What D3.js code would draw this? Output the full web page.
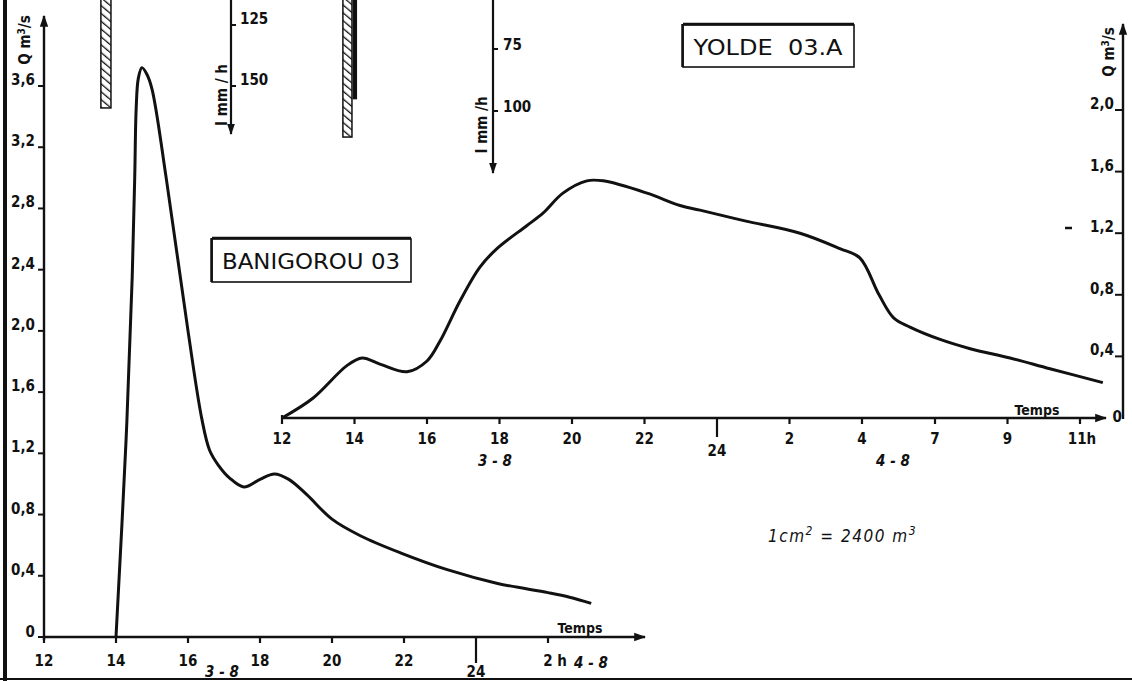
<!DOCTYPE html>
<html><head><meta charset="utf-8">
<script src="https://cdn.jsdelivr.net/npm/d3@7"></script>
<style>
html,body{margin:0;padding:0;background:#fff;}
svg{display:block;}
text{font-family:"DejaVu Sans Condensed","DejaVu Sans",sans-serif;fill:#111;}
</style></head>
<body>
<script>
// ---------- DATA ----------
// BANIGOROU 03 hydrograph (hours from 0h on 3-8, Q m3/s)
const banHours = [14.0, 14.28, 14.45, 14.52, 14.56, 14.62, 14.72, 14.85, 15.0, 15.4, 16.0, 16.38, 16.6, 16.85, 17.15, 17.55, 18.0, 18.4, 18.8, 19.3, 20.0, 20.8, 21.9, 23.2, 24.6, 26.0, 26.6, 27.2];
const banQ     = [0.0,  1.29,  2.35,  3.0,   3.45,  3.65,  3.72,  3.68,  3.58, 2.99, 2.0,  1.43,  1.22, 1.12,  1.04,  0.98,  1.03, 1.065, 1.03, 0.93, 0.77, 0.66, 0.55, 0.44, 0.35, 0.29, 0.26, 0.22];
const banTickHours  = [12, 14, 16, 18, 20, 22, 24, 26];
const banTickLabels = ["12", "14", "16", "18", "20", "22", "24", "2 h"];
const banQTicks = [0, 0.4, 0.8, 1.2, 1.6, 2.0, 2.4, 2.8, 3.2, 3.6];
const banRainTicks = [125, 150];
const banRainBars = [{t0: 13.58, t1: 13.86, i: 159, type: "hatch"}];

// YOLDE 03.A hydrograph
const yolHours = [12.0, 12.86, 13.79, 14.21, 14.7, 15.45, 16.0, 16.36, 16.91, 17.46, 17.93, 18.76, 19.2, 19.75, 20.41, 20.86, 22.07, 22.98, 23.53, 24.77, 26.29, 27.39, 27.94, 28.7, 29.3, 29.97, 31.14, 31.97, 33.07, 34.17, 35.63];
const yolQ     = [0.0,  0.13,  0.34,  0.39,  0.35, 0.30,  0.37, 0.50,  0.76,  0.98,  1.10,  1.25,  1.33, 1.46,  1.54,  1.54,  1.46,  1.38,  1.35,  1.28,  1.20,  1.10,  1.04,  0.80,  0.65,  0.59,  0.51,  0.45,  0.39,  0.32,  0.23];
const yolTickHours  = [12, 14, 16, 18, 20, 22, 24, 26, 28, 31, 33, 35];
const yolTickLabels = ["12", "14", "16", "18", "20", "22", "24", "2", "4", "7", "9", "11h"];
const yolQTicks = [0, 0.4, 0.8, 1.2, 1.6, 2.0];
const yolQTickLabels = ["0", "0,4", "0,8", "1,2", "1,6", "2,0"];
const yolRainTicks = [75, 100];
const yolRainBars = [{t0: 13.68, t1: 13.93, i: 110.5, type: "hatch"}, {t0: 13.97, t1: 14.05, i: 95, type: "solid"}];

const fmt = v => v === 0 ? "0" : d3.format(".1f")(v).replace(".", ",");

// ---------- SVG ----------
const W = 1132, H = 681;
const svg = d3.select("body").append("svg").attr("width", W).attr("height", H);
const defs = svg.append("defs");
defs.append("marker").attr("id", "arr").attr("viewBox", "0 0 10 10").attr("refX", 9).attr("refY", 5)
  .attr("markerWidth", 5).attr("markerHeight", 5).attr("orient", "auto-start-reverse")
  .attr("markerUnits", "strokeWidth")
  .append("path").attr("d", "M0,1.5 L10,5 L0,8.5 z").attr("fill", "#111");
const pat = defs.append("pattern").attr("id", "hatch").attr("patternUnits", "userSpaceOnUse")
  .attr("width", 6).attr("height", 6).attr("patternTransform", "rotate(-50)");
pat.append("rect").attr("width", 6).attr("height", 6).attr("fill", "#fff");
pat.append("line").attr("x1", 0).attr("y1", 0).attr("x2", 0).attr("y2", 6).attr("stroke", "#111").attr("stroke-width", 2.6);

const ink = "#111";
const FS = 15;

// page border
svg.append("line").attr("x1", 5).attr("y1", 0).attr("x2", 5).attr("y2", H).attr("stroke", ink).attr("stroke-width", 4);
svg.append("line").attr("x1", 0).attr("y1", 679).attr("x2", W).attr("y2", 679).attr("stroke", ink).attr("stroke-width", 2);

// ================= BANIGOROU 03 =================
const bx = d3.scaleLinear().domain([12, 28.6]).range([44, 641.6]);
const by = d3.scaleLinear().domain([0, 3.6]).range([637, 86]);
const bRain = d3.scaleLinear().domain([125, 150]).range([25, 86]);

const g1 = svg.append("g");
g1.append("line").attr("x1", bx(12)).attr("y1", by(0)).attr("x2", 645).attr("y2", by(0))
  .attr("stroke", ink).attr("stroke-width", 2.4).attr("marker-end", "url(#arr)");
g1.selectAll(".bxt").data(banTickHours).join("line")
  .attr("x1", d => bx(d)).attr("x2", d => bx(d)).attr("y1", by(0))
  .attr("y2", d => d === 24 ? by(0) + 26 : by(0) + 6)
  .attr("stroke", ink).attr("stroke-width", 2.2);
g1.selectAll(".bxl").data(banTickHours).join("text")
  .attr("x", d => bx(d) + (d === 26 ? 7 : 0)).attr("y", d => d === 24 ? 677 : by(0) + 29)
  .attr("text-anchor", "middle").attr("font-size", FS).attr("font-weight", "bold")
  .text((d, i) => banTickLabels[i]);
g1.append("line").attr("x1", bx(12)).attr("y1", by(0) + 3).attr("x2", bx(12)).attr("y2", 16)
  .attr("stroke", ink).attr("stroke-width", 2.4).attr("marker-end", "url(#arr)");
g1.selectAll(".byt").data(banQTicks).join("line")
  .attr("x1", bx(12) - 6).attr("x2", bx(12)).attr("y1", d => by(d)).attr("y2", d => by(d))
  .attr("stroke", ink).attr("stroke-width", 2);
g1.selectAll(".byl").data(banQTicks).join("text")
  .attr("x", bx(12) - 9).attr("y", d => by(d) + (d === 0 ? 0 : -1))
  .attr("text-anchor", "end").attr("font-size", FS).attr("font-weight", "bold")
  .text(d => fmt(d));
g1.append("text").attr("transform", `translate(${bx(12) - 14},40) rotate(-90)`)
  .attr("text-anchor", "middle").attr("font-size", FS).attr("font-weight", "bold")
  .html('Q m<tspan dy="-5" font-size="10">3</tspan><tspan dy="5">/s</tspan>');
g1.append("path").datum(banHours.map((h, i) => [h, banQ[i]]))
  .attr("fill", "none").attr("stroke", ink).attr("stroke-width", 3).attr("stroke-linejoin", "round")
  .attr("d", d3.line().x(d => bx(d[0])).y(d => by(d[1])).curve(d3.curveCatmullRom.alpha(0.5)));
const rAx1 = 231;
g1.append("line").attr("x1", rAx1).attr("y1", 0).attr("x2", rAx1).attr("y2", 134)
  .attr("stroke", ink).attr("stroke-width", 2.2).attr("marker-end", "url(#arr)");
g1.selectAll(".brt").data(banRainTicks).join("line")
  .attr("x1", rAx1).attr("x2", rAx1 + 5).attr("y1", d => bRain(d)).attr("y2", d => bRain(d))
  .attr("stroke", ink).attr("stroke-width", 2);
g1.selectAll(".brl").data(banRainTicks).join("text")
  .attr("x", rAx1 + 9).attr("y", d => bRain(d) - 1).attr("font-size", FS).attr("font-weight", "bold")
  .text(d => d);
g1.append("text").attr("transform", `translate(${rAx1 - 4},95) rotate(-90)`)
  .attr("text-anchor", "middle").attr("font-size", FS).attr("font-weight", "bold").text("I mm / h");
g1.selectAll(".brb").data(banRainBars).join("rect")
  .attr("x", d => bx(d.t0)).attr("width", d => bx(d.t1) - bx(d.t0))
  .attr("y", -2).attr("height", d => bRain(d.i) + 2)
  .attr("fill", d => d.type === "hatch" ? "url(#hatch)" : ink).attr("stroke", ink).attr("stroke-width", 1.5);
g1.append("text").attr("x", 580).attr("y", 633).attr("text-anchor", "middle")
  .attr("font-size", 14).attr("font-weight", "bold").text("Temps");
g1.append("text").attr("x", 222).attr("y", 677).attr("text-anchor", "middle")
  .attr("font-size", FS).attr("font-weight", "bold").attr("font-style", "italic").text("3 - 8");
g1.append("text").attr("x", 591).attr("y", 668).attr("text-anchor", "middle")
  .attr("font-size", FS).attr("font-weight", "bold").attr("font-style", "italic").text("4 - 8");
g1.append("rect").attr("x", 212).attr("y", 239).attr("width", 199).attr("height", 43)
  .attr("fill", "#fff").attr("stroke", ink).attr("stroke-width", 1.6);
g1.append("line").attr("x1", 212).attr("y1", 238).attr("x2", 411).attr("y2", 238).attr("stroke", ink).attr("stroke-width", 2.5);
g1.append("line").attr("x1", 211.5).attr("y1", 238).attr("x2", 211.5).attr("y2", 282).attr("stroke", ink).attr("stroke-width", 2.5);
g1.append("text").attr("x", 311).attr("y", 269).attr("text-anchor", "middle")
  .attr("font-family", "'DejaVu Sans',sans-serif").attr("font-size", 21)
  .attr("textLength", 178).attr("lengthAdjust", "spacingAndGlyphs")
  .text("BANIGOROU 03");

// ================= YOLDE 03.A =================
const yx = d3.scaleLinear().domain([12, 28, 31, 35]).range([282, 862, 935, 1080]);
const yy = d3.scaleLinear().domain([0, 2.0]).range([418, 110]);
const yRain = d3.scaleLinear().domain([75, 100]).range([49, 111]);

const g2 = svg.append("g");
g2.append("line").attr("x1", yx(12)).attr("y1", yy(0)).attr("x2", 1106).attr("y2", yy(0))
  .attr("stroke", ink).attr("stroke-width", 2.4).attr("marker-end", "url(#arr)");
g2.selectAll(".yxt").data(yolTickHours).join("line")
  .attr("x1", d => yx(d)).attr("x2", d => yx(d)).attr("y1", d => yy(0) - (d === 12 ? 3 : 0))
  .attr("y2", d => d === 24 ? yy(0) + 19 : yy(0) + 6)
  .attr("stroke", ink).attr("stroke-width", 2.2);
g2.selectAll(".yxl").data(yolTickHours).join("text")
  .attr("x", d => yx(d) + (d === 35 ? 2 : 0)).attr("y", d => d === 24 ? yy(0) + 38 : yy(0) + 26)
  .attr("text-anchor", "middle").attr("font-size", FS).attr("font-weight", "bold")
  .text((d, i) => yolTickLabels[i]);
const yAxX = 1123;
g2.append("line").attr("x1", yAxX).attr("y1", yy(0) + 1).attr("x2", yAxX).attr("y2", 24)
  .attr("stroke", ink).attr("stroke-width", 2.4).attr("marker-end", "url(#arr)");
g2.selectAll(".yyt").data(yolQTicks.slice(1)).join("line")
  .attr("x1", yAxX - 8).attr("x2", yAxX).attr("y1", d => yy(d)).attr("y2", d => yy(d))
  .attr("stroke", ink).attr("stroke-width", 2);
g2.selectAll(".yyl").data(yolQTicks).join("text")
  .attr("x", d => d === 0 ? yAxX - 1 : yAxX - 9).attr("y", d => d === 0 ? yy(0) + 4 : yy(d) - 1)
  .attr("text-anchor", "end").attr("font-size", FS).attr("font-weight", "bold")
  .text((d, i) => yolQTickLabels[i]);
g2.append("text").attr("transform", `translate(${yAxX - 9},52) rotate(-90)`)
  .attr("text-anchor", "middle").attr("font-size", FS).attr("font-weight", "bold")
  .html('Q m<tspan dy="-5" font-size="10">3</tspan><tspan dy="5">/s</tspan>');
g2.append("path").datum(yolHours.map((h, i) => [h, yolQ[i]]))
  .attr("fill", "none").attr("stroke", ink).attr("stroke-width", 3).attr("stroke-linejoin", "round")
  .attr("d", d3.line().x(d => yx(d[0])).y(d => yy(d[1])).curve(d3.curveCatmullRom.alpha(0.5)));
const rAx2 = 493;
g2.append("line").attr("x1", rAx2).attr("y1", 0).attr("x2", rAx2).attr("y2", 173)
  .attr("stroke", ink).attr("stroke-width", 2.2).attr("marker-end", "url(#arr)");
g2.selectAll(".yrt").data(yolRainTicks).join("line")
  .attr("x1", rAx2).attr("x2", rAx2 + 5).attr("y1", d => yRain(d)).attr("y2", d => yRain(d))
  .attr("stroke", ink).attr("stroke-width", 2);
g2.selectAll(".yrl").data(yolRainTicks).join("text")
  .attr("x", rAx2 + 10).attr("y", d => yRain(d) + 1).attr("font-size", FS).attr("font-weight", "bold")
  .text(d => d);
g2.append("text").attr("transform", `translate(${rAx2 - 6},125) rotate(-90)`)
  .attr("text-anchor", "middle").attr("font-size", FS).attr("font-weight", "bold").text("I mm /h");
g2.selectAll(".yrb").data(yolRainBars).join("rect")
  .attr("x", d => yx(d.t0)).attr("width", d => yx(d.t1) - yx(d.t0))
  .attr("y", -2).attr("height", d => yRain(d.i) + 2)
  .attr("fill", d => d.type === "hatch" ? "url(#hatch)" : ink).attr("stroke", ink).attr("stroke-width", 1.5);
g2.append("text").attr("x", 1037).attr("y", 415).attr("text-anchor", "middle")
  .attr("font-size", 14).attr("font-weight", "bold").text("Temps");
g2.append("text").attr("x", 495).attr("y", 466).attr("text-anchor", "middle")
  .attr("font-size", FS).attr("font-weight", "bold").attr("font-style", "italic").text("3 - 8");
g2.append("text").attr("x", 893).attr("y", 466).attr("text-anchor", "middle")
  .attr("font-size", FS).attr("font-weight", "bold").attr("font-style", "italic").text("4 - 8");
g2.append("rect").attr("x", 683).attr("y", 25).attr("width", 171).attr("height", 42)
  .attr("fill", "#fff").attr("stroke", ink).attr("stroke-width", 1.6);
g2.append("line").attr("x1", 683).attr("y1", 24).attr("x2", 854).attr("y2", 24).attr("stroke", ink).attr("stroke-width", 2.5);
g2.append("line").attr("x1", 682.5).attr("y1", 24).attr("x2", 682.5).attr("y2", 67).attr("stroke", ink).attr("stroke-width", 2.5);
g2.append("text").attr("x", 768).attr("y", 55).attr("text-anchor", "middle")
  .attr("font-family", "'DejaVu Sans',sans-serif").attr("font-size", 22)
  .attr("textLength", 149).attr("lengthAdjust", "spacingAndGlyphs")
  .text("YOLDE\u00a0\u00a003.A");

svg.append("text").attr("x", 768).attr("y", 542).attr("font-size", 17).attr("font-style", "italic")
  .attr("letter-spacing", 1.5)
  .html('1cm<tspan dy="-7" font-size="12">2</tspan><tspan dy="7"> = 2400 m</tspan><tspan dy="-7" font-size="12">3</tspan>');
svg.append("line").attr("x1", 1065).attr("y1", 228).attr("x2", 1072).attr("y2", 228).attr("stroke", ink).attr("stroke-width", 2.5);
</script>
</body></html>
